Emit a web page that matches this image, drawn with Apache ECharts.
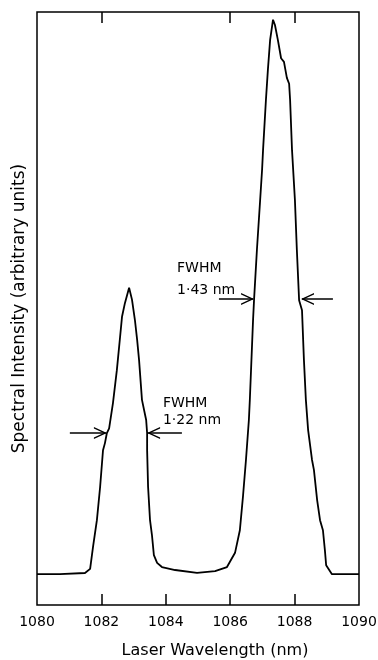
<!DOCTYPE html>
<html>
<head>
<meta charset="utf-8">
<script src="https://cdn.jsdelivr.net/npm/echarts@6/dist/echarts.min.js"></script>
<style>
  html, body { margin: 0; background: #fff; }
  #chart { width: 378px; height: 660px; }
</style>
</head>
<body>
<div id="chart"></div>
<script>
// traced spectrum (wavelength in nm, intensity in arbitrary units 0-100)
var wavelength = [1080.00, 1080.71, 1081.49, 1081.65, 1081.74, 1081.86, 1081.96, 1082.05, 1082.11, 1082.17,
  1082.24, 1082.36, 1082.48, 1082.58, 1082.64, 1082.73, 1082.86, 1082.95, 1083.04, 1083.11,
  1083.17, 1083.26, 1083.39, 1083.42, 1083.42, 1083.45, 1083.51, 1083.57, 1083.63, 1083.73,
  1083.88, 1084.29, 1084.97, 1085.53, 1085.90, 1086.15, 1086.30, 1086.40, 1086.49, 1086.58,
  1086.61, 1086.71, 1086.74, 1086.83, 1086.93, 1086.99, 1087.02, 1087.11, 1087.17, 1087.24,
  1087.33, 1087.39, 1087.48, 1087.58, 1087.67, 1087.76, 1087.83, 1087.86, 1087.92, 1088.01,
  1088.07, 1088.14, 1088.23, 1088.29, 1088.35, 1088.42, 1088.54, 1088.60, 1088.70, 1088.79,
  1088.88, 1088.94, 1088.98, 1089.04, 1089.16, 1090.00];
var intensity = [5.2, 5.2, 5.4, 6.1, 9.8, 14.3, 19.9, 26.1, 27.3, 29.0,
  29.8, 34.1, 39.6, 45.2, 48.6, 50.9, 53.5, 51.5, 48.1, 44.7,
  41.3, 34.6, 31.2, 29.0, 26.1, 19.9, 14.3, 11.8, 8.4, 7.1,
  6.4, 5.9, 5.4, 5.7, 6.4, 8.8, 12.6, 18.5, 24.5, 31.2,
  34.6, 48.1, 51.4, 59.9, 68.3, 73.4, 76.7, 85.2, 90.2, 95.3,
  98.7, 97.8, 95.3, 92.2, 91.6, 88.9, 87.9, 85.2, 76.7, 68.3,
  59.9, 51.4, 49.7, 41.3, 34.6, 29.5, 24.5, 22.8, 17.7, 14.3,
  12.6, 9.3, 6.7, 6.2, 5.2, 5.2];

var bottomTicks = [1082, 1084, 1086, 1088];
var topTicks = [1082, 1086, 1088];

// FWHM arrows: [from, to, level]
var arrows = [
  [1081.02, 1082.14, 29.0],
  [1084.50, 1083.45, 29.0],
  [1085.65, 1086.71, 51.6],
  [1089.19, 1088.23, 51.6]
];
// FWHM notes: [x, y, text, lineHeight]
var notes = [
  [1083.91, 35.4, 'FWHM\n1·22 nm', 17],
  [1084.35, 58.7, 'FWHM\n1·43 nm', 22]
];

var font = 'DejaVu Sans';
var openHead = 'path://M0,0L24,0L0,0Z M12,11L18,24L16.5,24L12,14.3L7.5,24L6,24Z';

var chart = echarts.init(document.getElementById('chart'));
chart.setOption({
  animation: false,
  textStyle: { fontFamily: font, color: '#000' },
  grid: {
    left: 37, right: 19, top: 12, bottom: 55, show: true, borderColor: '#000', borderWidth: 1.5,
    containLabel: false, outerBoundsMode: 'none'
  },
  xAxis: [{
    type: 'value', min: 1080, max: 1090, interval: 2, position: 'bottom',
    axisLine: { show: false },
    axisTick: { inside: true, length: 11, customValues: bottomTicks, lineStyle: { color: '#000', width: 1.5 } },
    splitLine: { show: false },
    axisLabel: { color: '#000', fontSize: 14, margin: 10, fontFamily: font,
      formatter: function (v) { return String(v); } },
    name: 'Laser Wavelength (nm)', nameLocation: 'middle', nameGap: 38,
    nameTextStyle: { fontSize: 16, color: '#000', fontFamily: font, padding: [0, 0, 0, 34] }
  }, {
    type: 'value', min: 1080, max: 1090, interval: 2, position: 'top',
    axisLine: { show: false },
    axisTick: { inside: true, length: 11, customValues: topTicks, lineStyle: { color: '#000', width: 1.5 } },
    axisLabel: { show: false },
    splitLine: { show: false }
  }],
  yAxis: {
    type: 'value', min: 0, max: 100,
    axisLine: { show: false }, axisTick: { show: false }, axisLabel: { show: false }, splitLine: { show: false },
    name: 'Spectral Intensity (arbitrary units)', nameLocation: 'middle', nameGap: 9,
    nameTextStyle: { fontSize: 17, color: '#000', fontFamily: font }
  },
  series: [{
    type: 'line',
    xAxisIndex: 0,
    data: wavelength.map(function (w, i) { return [w, intensity[i]]; }),
    symbol: 'none',
    lineStyle: { color: '#000', width: 1.8 },
    markLine: {
      silent: true,
      symbol: ['none', openHead],
      symbolSize: 24,
      lineStyle: { color: '#000', width: 1.5, type: 'solid' },
      label: { show: false },
      data: arrows.map(function (a) {
        return [{ coord: [a[0], a[2]] }, { coord: [a[1], a[2]] }];
      })
    },
    markPoint: {
      silent: true,
      symbol: 'circle',
      symbolSize: 0,
      label: { show: true, position: [0, 0], color: '#000', fontSize: 14, fontFamily: font,
        formatter: function (p) { return p.name; } },
      data: notes.map(function (n) {
        return { coord: [n[0], n[1]], name: n[2], label: { lineHeight: n[3] } };
      })
    }
  }]
});
</script>
</body>
</html>
